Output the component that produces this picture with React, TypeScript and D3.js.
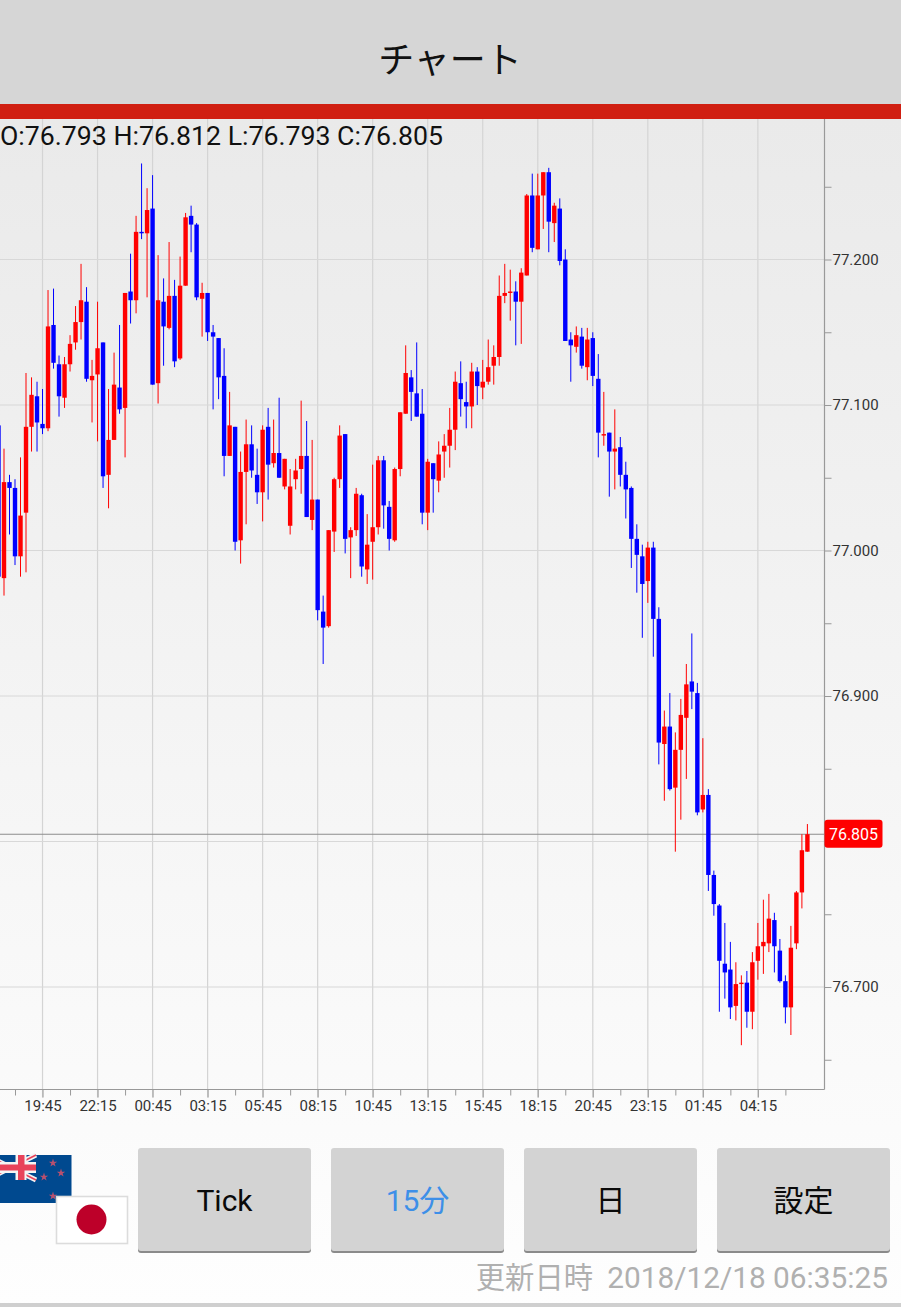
import React, { useEffect, useRef } from 'react';
import * as d3 from 'd3';

const W = 901;
const H = 1307;

// 15 minute candles, O/H/L/C
const opens = [
  77.086, 76.981, 77.047, 77.043, 76.996, 77.026, 77.085, 77.106, 77.087, 77.084,
  77.155, 77.128, 77.105, 77.128, 77.143, 77.157, 77.171, 77.117, 77.121, 77.143,
  77.052, 77.076, 77.112, 77.098, 77.178, 77.172, 77.219, 77.218, 77.235, 77.115,
  77.171, 77.153, 77.175, 77.132, 77.182, 77.230, 77.224, 77.173, 77.177, 77.150,
  77.146, 77.120, 77.065, 77.085, 77.007, 77.054, 77.073, 77.052, 77.040, 77.085,
  77.060, 77.067, 77.044, 77.017, 77.049, 77.056, 77.065, 77.021, 77.035, 76.958,
  76.948, 77.013, 77.049, 77.080, 77.009, 77.014, 77.038, 76.987, 77.006, 77.016,
  77.062, 77.030, 77.007, 77.056, 77.094, 77.119, 77.108, 77.094, 77.026, 77.060,
  77.048, 77.068, 77.072, 77.083, 77.115, 77.102, 77.099, 77.123, 77.112, 77.116,
  77.127, 77.133, 77.175, 77.177, 77.178, 77.171, 77.189, 77.244, 77.207, 77.244,
  77.260, 77.225, 77.235, 77.200, 77.145, 77.140, 77.147, 77.126, 77.146, 77.118,
  77.079, 77.081, 77.068, 77.071, 77.052, 77.043, 77.008, 76.996, 76.979, 77.002,
  76.953, 76.867, 76.879, 76.837, 76.863, 76.885, 76.910, 76.902, 76.822, 76.832,
  76.777, 76.756, 76.716, 76.712, 76.687, 76.702, 76.703, 76.683, 76.718, 76.728,
  76.730, 76.746, 76.725, 76.704, 76.686, 76.730, 76.765, 76.793,
];
const highs = [
  77.086, 77.070, 77.052, 77.049, 77.064, 77.122, 77.119, 77.116, 77.111, 77.179,
  77.180, 77.134, 77.133, 77.148, 77.168, 77.197, 77.181, 77.131, 77.171, 77.143,
  77.111, 77.136, 77.155, 77.177, 77.204, 77.230, 77.266, 77.249, 77.258, 77.203,
  77.187, 77.212, 77.186, 77.202, 77.232, 77.237, 77.225, 77.184, 77.177, 77.155,
  77.146, 77.139, 77.109, 77.085, 77.068, 77.090, 77.086, 77.070, 77.086, 77.098,
  77.090, 77.105, 77.063, 77.056, 77.063, 77.103, 77.089, 77.076, 77.035, 76.969,
  77.014, 77.050, 77.086, 77.080, 77.016, 77.043, 77.039, 77.025, 77.059, 77.065,
  77.065, 77.034, 77.057, 77.095, 77.141, 77.124, 77.143, 77.111, 77.063, 77.060,
  77.075, 77.080, 77.098, 77.123, 77.130, 77.116, 77.129, 77.126, 77.131, 77.145,
  77.141, 77.189, 77.197, 77.193, 77.185, 77.194, 77.245, 77.259, 77.259, 77.260,
  77.263, 77.239, 77.242, 77.207, 77.150, 77.154, 77.153, 77.153, 77.150, 77.135,
  77.109, 77.081, 77.097, 77.078, 77.061, 77.044, 77.018, 77.004, 77.006, 77.006,
  76.961, 76.890, 76.902, 76.875, 76.898, 76.922, 76.943, 76.909, 76.871, 76.836,
  76.780, 76.757, 76.744, 76.731, 76.717, 76.708, 76.711, 76.724, 76.744, 76.760,
  76.764, 76.751, 76.733, 76.708, 76.742, 76.766, 76.805, 76.812,
];
const lows = [
  76.980, 76.969, 77.011, 76.990, 76.982, 76.985, 77.068, 77.068, 77.080, 77.082,
  77.125, 77.092, 77.098, 77.123, 77.138, 77.145, 77.116, 77.088, 77.075, 77.043,
  77.029, 77.076, 77.094, 77.064, 77.156, 77.163, 77.214, 77.174, 77.114, 77.101,
  77.127, 77.152, 77.126, 77.131, 77.182, 77.205, 77.172, 77.147, 77.144, 77.097,
  77.104, 77.051, 77.065, 77.000, 76.991, 77.018, 77.050, 77.032, 77.020, 77.035,
  77.057, 77.050, 77.042, 77.011, 77.042, 77.039, 77.023, 77.014, 76.952, 76.922,
  76.947, 76.999, 77.043, 76.998, 76.981, 77.010, 76.982, 76.977, 76.980, 77.011,
  77.015, 77.000, 77.006, 77.051, 77.094, 77.089, 77.092, 77.018, 77.014, 77.026,
  77.040, 77.050, 77.057, 77.069, 77.092, 77.084, 77.084, 77.100, 77.104, 77.114,
  77.114, 77.127, 77.170, 77.158, 77.141, 77.142, 77.189, 77.205, 77.207, 77.221,
  77.205, 77.212, 77.196, 77.144, 77.116, 77.136, 77.125, 77.117, 77.113, 77.064,
  77.072, 77.037, 77.042, 77.044, 77.022, 76.988, 76.971, 76.940, 76.964, 76.927,
  76.853, 76.828, 76.835, 76.793, 76.815, 76.843, 76.891, 76.818, 76.820, 76.766,
  76.749, 76.683, 76.692, 76.678, 76.677, 76.660, 76.672, 76.671, 76.705, 76.709,
  76.724, 76.710, 76.703, 76.675, 76.667, 76.726, 76.754, 76.793,
];
const closes = [
  76.982, 77.047, 77.043, 76.996, 77.024, 77.085, 77.107, 77.088, 77.084, 77.154,
  77.129, 77.106, 77.128, 77.142, 77.157, 77.172, 77.118, 77.120, 77.139, 77.051,
  77.076, 77.114, 77.097, 77.177, 77.172, 77.219, 77.218, 77.234, 77.114, 77.172,
  77.154, 77.175, 77.130, 77.182, 77.229, 77.224, 77.174, 77.177, 77.150, 77.147,
  77.119, 77.065, 77.086, 77.006, 77.054, 77.073, 77.055, 77.040, 77.083, 77.059,
  77.067, 77.050, 77.063, 77.044, 77.055, 77.065, 77.023, 77.035, 76.959, 76.947,
  77.014, 77.049, 77.079, 77.008, 77.014, 77.039, 76.989, 77.004, 77.016, 77.062,
  77.031, 77.008, 77.056, 77.095, 77.122, 77.109, 77.092, 77.026, 77.061, 77.049,
  77.066, 77.072, 77.083, 77.116, 77.104, 77.099, 77.123, 77.113, 77.116, 77.126,
  77.133, 77.175, 77.177, 77.178, 77.171, 77.191, 77.244, 77.208, 77.244, 77.260,
  77.226, 77.237, 77.199, 77.144, 77.141, 77.148, 77.127, 77.145, 77.120, 77.081,
  77.080, 77.068, 77.070, 77.052, 77.042, 77.008, 76.997, 76.977, 77.002, 76.953,
  76.868, 76.879, 76.836, 76.863, 76.887, 76.908, 76.903, 76.820, 76.832, 76.777,
  76.757, 76.718, 76.710, 76.686, 76.702, 76.703, 76.683, 76.717, 76.728, 76.731,
  76.747, 76.728, 76.704, 76.686, 76.727, 76.765, 76.794, 76.805,
];

const timeLabels = [
  '19:45', '22:15', '00:45', '03:15', '05:45', '08:15', '10:45',
  '13:15', '15:45', '18:15', '20:45', '23:15', '01:45', '04:15',
];
const priceLabels = [77.2, 77.1, 77.0, 76.9, 76.8, 76.7];
const priceMinor = [77.25, 77.15, 77.05, 76.95, 76.85, 76.75, 76.65];
const lastPrice = 76.805;
const buttons = ['Tick', '15分', '日', '設定'];

const latin = "Roboto, 'Noto Sans CJK JP', sans-serif";

const App = () => {
  const ref = useRef<SVGSVGElement | null>(null);

  useEffect(() => {
    if (!ref.current) return;
    const svg = d3.select(ref.current);
    svg.selectAll('*').remove();

    const plotRight = 824.5;
    const plotBottom = 1089.5;
    const plotTop = 119;

    const x = d3.scaleLinear().domain([0, opens.length - 1]).range([-1.5, 807.4]);
    const y = d3.scaleLinear().domain([76.7, 77.2]).range([987, 259.5]);

    const majorIdx = timeLabels.map((_, i) => 8 + i * 10);
    const minorIdx = d3.range(3, opens.length, 10);

    // page background
    const grad = svg.append('defs').append('linearGradient')
      .attr('id', 'bg').attr('x1', 0).attr('x2', 0).attr('y1', 0).attr('y2', 1);
    grad.append('stop').attr('offset', 0).attr('stop-color', '#eaeaea');
    grad.append('stop').attr('offset', 1).attr('stop-color', '#fefefe');
    svg.append('rect').attr('x', 0).attr('y', plotTop).attr('width', W).attr('height', H - plotTop)
      .attr('fill', 'url(#bg)');

    // header
    svg.append('rect').attr('width', W).attr('height', 104).attr('fill', '#d6d6d6');
    svg.append('rect').attr('y', 104).attr('width', W).attr('height', 15).attr('fill', '#d01f12');
    svg.append('text').attr('x', 450).attr('y', 73).attr('text-anchor', 'middle')
      .attr('font-family', "'Noto Sans CJK JP', sans-serif").attr('font-size', 36).attr('fill', '#111')
      .text('チャート');

    // grid
    const grid = svg.append('g');
    grid.selectAll('.gx').data(majorIdx).enter().append('line')
      .attr('x1', d => x(d)).attr('x2', d => x(d))
      .attr('y1', plotTop).attr('y2', plotBottom + 8)
      .attr('stroke', '#d4d4d4').attr('stroke-width', 1.2);
    grid.selectAll('.gy').data(priceLabels).enter().append('line')
      .attr('x1', 0).attr('x2', plotRight)
      .attr('y1', d => y(d)).attr('y2', d => y(d))
      .attr('stroke', '#d8d8d8').attr('stroke-width', 1.2);

    // last price line sits under the candles
    svg.append('line').attr('x1', 0).attr('x2', plotRight)
      .attr('y1', y(lastPrice)).attr('y2', y(lastPrice))
      .attr('stroke', '#8c8c8c').attr('stroke-width', 1.2);

    // candles
    const candles = svg.append('g').selectAll('g')
      .data(opens.map((o, i) => ({ i, o, h: highs[i], l: lows[i], c: closes[i] })))
      .enter().append('g');
    const colour = (d: { o: number; c: number }) => (d.c >= d.o ? '#ff0000' : '#0000ff');
    candles.append('line')
      .attr('x1', d => x(d.i)).attr('x2', d => x(d.i))
      .attr('y1', d => y(d.h)).attr('y2', d => y(d.l))
      .attr('stroke', colour).attr('stroke-width', 1);
    candles.append('rect')
      .attr('x', d => x(d.i) - 2.2).attr('width', 4.4)
      .attr('y', d => y(Math.max(d.o, d.c)))
      .attr('height', d => Math.max(1.2, Math.abs(y(d.o) - y(d.c))))
      .attr('fill', colour);

    // right axis
    const axisColour = '#999999';
    const yAxis = d3.axisRight(y).tickValues(priceLabels.filter(p => p !== 76.8))
      .tickSize(7).tickPadding(1).tickFormat(d3.format('.3f') as any);
    const yG = svg.append('g').attr('transform', `translate(${plotRight},0)`).call(yAxis);
    const yMinor = d3.axisRight(y).tickValues(priceMinor.concat([76.8])).tickSize(7).tickFormat(() => '');
    const yMinorG = svg.append('g').attr('transform', `translate(${plotRight},0)`).call(yMinor);

    // bottom axis
    const xAxis = d3.axisBottom(x).tickValues(majorIdx).tickSize(8).tickPadding(3)
      .tickFormat((_, i) => timeLabels[i]);
    const xG = svg.append('g').attr('transform', `translate(0,${plotBottom})`).call(xAxis);
    const xMinor = d3.axisBottom(x).tickValues(minorIdx).tickSize(6).tickFormat(() => '');
    const xMinorG = svg.append('g').attr('transform', `translate(0,${plotBottom})`).call(xMinor);

    [yG, yMinorG, xG, xMinorG].forEach(g => {
      g.select('.domain').remove();
      g.selectAll('line').attr('stroke', axisColour).attr('stroke-width', 1);
      g.selectAll('text').attr('font-family', latin).attr('font-size', 15).attr('fill', '#333');
    });
    svg.append('line').attr('x1', plotRight).attr('x2', plotRight).attr('y1', plotTop).attr('y2', plotBottom)
      .attr('stroke', axisColour).attr('stroke-width', 1.2);
    svg.append('line').attr('x1', 0).attr('x2', plotRight).attr('y1', plotBottom).attr('y2', plotBottom)
      .attr('stroke', axisColour).attr('stroke-width', 1.2);

    // last price tag
    svg.append('rect').attr('x', plotRight).attr('y', y(lastPrice) - 14.5).attr('width', 58).attr('height', 28)
      .attr('rx', 3).attr('fill', '#ff0000');
    svg.append('text').attr('x', plotRight + 29).attr('y', y(lastPrice) + 5.5).attr('text-anchor', 'middle')
      .attr('font-family', latin).attr('font-size', 16).attr('fill', '#fff')
      .text(d3.format('.3f')(lastPrice));

    // OHLC readout of the last candle
    const n = opens.length - 1;
    const fmt = d3.format('.3f');
    svg.append('text').attr('x', 0).attr('y', 144.5)
      .attr('font-family', latin).attr('font-size', 26.7).attr('fill', '#111')
      .text(`O:${fmt(opens[n])} H:${fmt(highs[n])} L:${fmt(lows[n])} C:${fmt(closes[n])}`);

    // buttons
    const btnX = d3.scaleLinear().domain([0, 3]).range([138, 717]);
    const btn = svg.append('g').selectAll('g').data(buttons).enter().append('g')
      .attr('transform', (_, i) => `translate(${btnX(i)},1148)`);
    btn.append('rect').attr('y', 2).attr('width', 173).attr('height', 103).attr('rx', 3).attr('fill', '#8a8a8a');
    btn.append('rect').attr('width', 173).attr('height', 103).attr('rx', 3).attr('fill', '#d3d3d3');
    btn.append('text').attr('x', 86.5).attr('y', 63).attr('text-anchor', 'middle')
      .attr('font-family', latin).attr('font-size', 30)
      .attr('fill', d => (d === '15分' ? '#3d8fe8' : '#0a0a0a'))
      .text(d => d);

    // currency flags
    svg.append('rect').attr('x', 0).attr('y', 1155).attr('width', 71.5).attr('height', 48).attr('fill', '#00498f');
    const jack = svg.append('g');
    [[-14, 1155, 36, 1180], [36, 1155, -14, 1180]].forEach(([a, b, c, e]) => {
      jack.append('line').attr('x1', a).attr('y1', b).attr('x2', c).attr('y2', e)
        .attr('stroke', '#f4f4f4').attr('stroke-width', 5);
      jack.append('line').attr('x1', a).attr('y1', b).attr('x2', c).attr('y2', e)
        .attr('stroke', '#e8425a').attr('stroke-width', 1.6);
    });
    jack.append('rect').attr('x', 15.5).attr('y', 1155).attr('width', 11).attr('height', 25).attr('fill', '#f4f4f4');
    jack.append('rect').attr('x', 0).attr('y', 1162).attr('width', 36).attr('height', 11).attr('fill', '#f4f4f4');
    jack.append('rect').attr('x', 18).attr('y', 1155).attr('width', 6.5).attr('height', 25).attr('fill', '#e8425a');
    jack.append('rect').attr('x', 0).attr('y', 1164.5).attr('width', 36).attr('height', 6).attr('fill', '#e8425a');
    const star = d3.symbol().type(d3.symbolStar).size(22);
    [[53, 1163], [44, 1177], [61, 1173], [53, 1196]].forEach(([sx, sy]) => {
      svg.append('path').attr('d', star()).attr('transform', `translate(${sx},${sy})`)
        .attr('fill', '#b8506e');
    });
    svg.append('rect').attr('x', 56.5).attr('y', 1196.5).attr('width', 71).attr('height', 47)
      .attr('fill', '#fff').attr('stroke', '#dcdcdc').attr('stroke-width', 1.6);
    svg.append('circle').attr('cx', 91.5).attr('cy', 1219.5).attr('r', 15).attr('fill', '#bd0029');

    // footer
    svg.append('text').attr('x', 888).attr('y', 1288).attr('text-anchor', 'end')
      .attr('font-family', latin).attr('font-size', 29.8).attr('fill', '#b0b0b0')
      .text('2018/12/18 06:35:25');
    svg.append('text').attr('x', 593).attr('y', 1288).attr('text-anchor', 'end')
      .attr('font-family', latin).attr('font-size', 29.3).attr('fill', '#b0b0b0')
      .text('更新日時');
    svg.append('rect').attr('y', 1303).attr('width', W).attr('height', 4).attr('fill', '#cfcfcf');
  }, []);

  return (
    <svg ref={ref} width={W} height={H} style={{ position: 'absolute', left: 0, top: 0, display: 'block' }}></svg>
  );
};

export default App;
